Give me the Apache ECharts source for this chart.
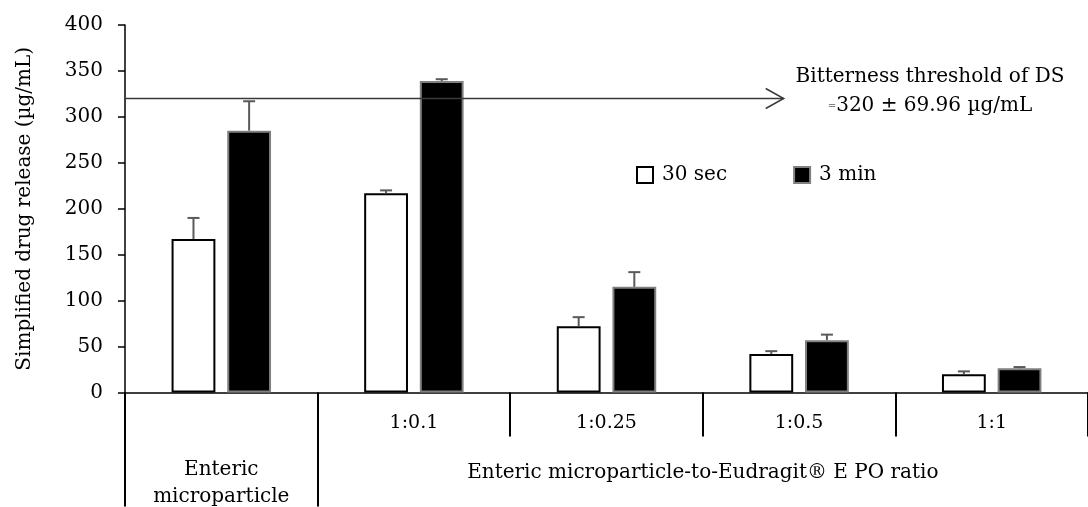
<!DOCTYPE html>
<html>
<head>
<meta charset="utf-8">
<script src="https://cdn.jsdelivr.net/npm/echarts@6/dist/echarts.min.js"></script>
<style>html,body{margin:0;padding:0;background:#fff;}#c{width:1088px;height:507px;}</style>
</head>
<body>
<div id="c"></div>
<script>
// ---- data ----
const categories = ['', '1:0.1', '1:0.25', '1:0.5', '1:1'];
const groupLabels = ['Enteric\nmicroparticle', 'Enteric microparticle-to-Eudragit\u00AE E PO ratio'];
const seriesNames = ['30 sec', '3 min'];
const sec30 = [167, 217, 72, 42, 20];
const sec30Err = [23, 3, 10, 3, 3];
const min3 = [285, 339, 115, 57, 26.5];
const min3Err = [32, 2, 16, 6, 1.2];
const threshold = [320];
const yTicks = [0, 50, 100, 150, 200, 250, 300, 350, 400];

// ---- style ----
const FONT = 'DejaVu Serif';
const FS = 20;
const BAR_W = 0.2275, BAR_GAP = 0.27;

function errSeries(name, vals, errs, sign) {
  return {
    type: 'custom', name: name + ' err', xAxisIndex: 0, yAxisIndex: 0, z: 5,
    data: vals.map((v, i) => [i, v, errs[i]]),
    encode: { x: 0, y: 1 },
    renderItem: function (params, api) {
      const i = api.value(0), v = api.value(1), e = api.value(2);
      const band = api.size([1, 0])[0];
      const bw = band * BAR_W, gap = bw * BAR_GAP;
      const dx = sign * (bw + gap) / 2;
      const p0 = api.coord([i, v]);
      const p1 = api.coord([i, v + e]);
      const x = p0[0] + dx;
      const st = { stroke: '#5a5a5a', lineWidth: 2 };
      return { type: 'group', children: [
        { type: 'line', shape: { x1: x, y1: p0[1], x2: x, y2: p1[1] }, style: st },
        { type: 'line', shape: { x1: x - 6, y1: p1[1], x2: x + 6, y2: p1[1] }, style: st }
      ]};
    }
  };
}

const chart = echarts.init(document.getElementById('c'));
chart.setOption({
  animation: false,
  backgroundColor: '#fff',
  textStyle: { fontFamily: FONT, color: '#000' },
  grid: { left: 125, right: -4, top: 25, bottom: 114, containLabel: false },
  legend: {
    data: seriesNames, left: 631, top: 160, itemWidth: 16, itemHeight: 16, itemGap: 66,
    textStyle: { fontFamily: FONT, fontSize: FS, color: '#000', padding: [0, 0, 0, 4] },
    icon: 'rect'
  },
  xAxis: [{
    type: 'category', data: categories, position: 'bottom',
    axisLine: { show: true, lineStyle: { color: '#000', width: 1.5 } },
    axisTick: { show: true, interval: 0, length: 44, lineStyle: { color: '#000', width: 2 } },
    axisLabel: { interval: 0, fontSize: 19, color: '#000', margin: 21, fontFamily: FONT },
    splitLine: { show: false }
  }, {
    type: 'value', min: 0, max: 5, position: 'bottom',
    axisLine: { show: false },
    axisTick: { show: true, customValues: [0, 1], length: 114, lineStyle: { color: '#000', width: 2 } },
    axisLabel: {
      customValues: [0.5, 3], margin: 64, fontFamily: FONT, fontSize: FS, color: '#000',
      formatter: function (v) {
        return v < 1 ? '{a|' + groupLabels[0].replace('\n', '}\n{a|') + '}' : '{b|' + groupLabels[1] + '}';
      },
      rich: {
        a: { fontFamily: FONT, fontSize: FS, lineHeight: 27, color: '#000', align: 'center' },
        b: { fontFamily: FONT, fontSize: FS, lineHeight: 27, color: '#000', padding: [5, 0, 0, 0] }
      }
    },
    splitLine: { show: false }
  }],
  yAxis: {
    type: 'value', min: yTicks[0], max: yTicks[yTicks.length - 1], interval: 50,
    name: 'Simplified drug release (\u00B5g/mL)', nameLocation: 'middle', nameGap: 90,
    nameTextStyle: { fontFamily: FONT, fontSize: FS, color: '#000' },
    axisLine: { show: true, lineStyle: { color: '#000', width: 1.5 } },
    axisTick: { show: true, length: 7, lineStyle: { color: '#000', width: 1.5 } },
    axisLabel: { fontSize: FS, color: '#000', margin: 22, fontFamily: FONT },
    splitLine: { show: false }
  },
  series: [
    {
      type: 'bar', name: seriesNames[0], data: sec30, barWidth: (BAR_W * 100) + '%', barGap: (BAR_GAP * 100) + '%',
      itemStyle: { color: '#fff', borderColor: '#000', borderWidth: 2 }
    },
    {
      type: 'bar', name: seriesNames[1], data: min3, barWidth: (BAR_W * 100) + '%', barGap: (BAR_GAP * 100) + '%',
      itemStyle: { color: '#000', borderColor: '#808080', borderWidth: 2 }
    },
    errSeries(seriesNames[0], sec30, sec30Err, -1),
    errSeries(seriesNames[1], min3, min3Err, 1),
    {
      type: 'custom', name: 'threshold', xAxisIndex: 1, yAxisIndex: 0, z: 6,
      data: [[0, threshold[0]]],
      encode: { x: 0, y: 1 },
      renderItem: function (params, api) {
        const y = api.value(1);
        const a = api.coord([0, y]);
        const b = api.coord([3.42, y]);
        const st = { stroke: '#3a3a3a', lineWidth: 1.5, fill: null };
        return { type: 'group', children: [
          { type: 'line', shape: { x1: a[0], y1: a[1], x2: b[0], y2: b[1] }, style: st },
          { type: 'polyline', shape: { points: [[b[0] - 18, b[1] - 10], [b[0], b[1]], [b[0] - 18, b[1] + 10]] }, style: st }
        ]};
      }
    }
  ],
  graphic: [
    { type: 'text', x: 930, y: 77, style: { text: 'Bitterness threshold of DS', fontFamily: FONT, fontSize: FS, fill: '#000', align: 'center', verticalAlign: 'middle' } },
    { type: 'text', x: 930, y: 106, style: {
      text: '{s|=}{n|' + threshold[0] + ' \u00B1 69.96 \u00B5g/mL}', align: 'center', verticalAlign: 'middle',
      rich: { s: { fontFamily: FONT, fontSize: 10, fill: '#000' }, n: { fontFamily: FONT, fontSize: FS, fill: '#000' } }
    } }
  ]
});
</script>
</body>
</html>
